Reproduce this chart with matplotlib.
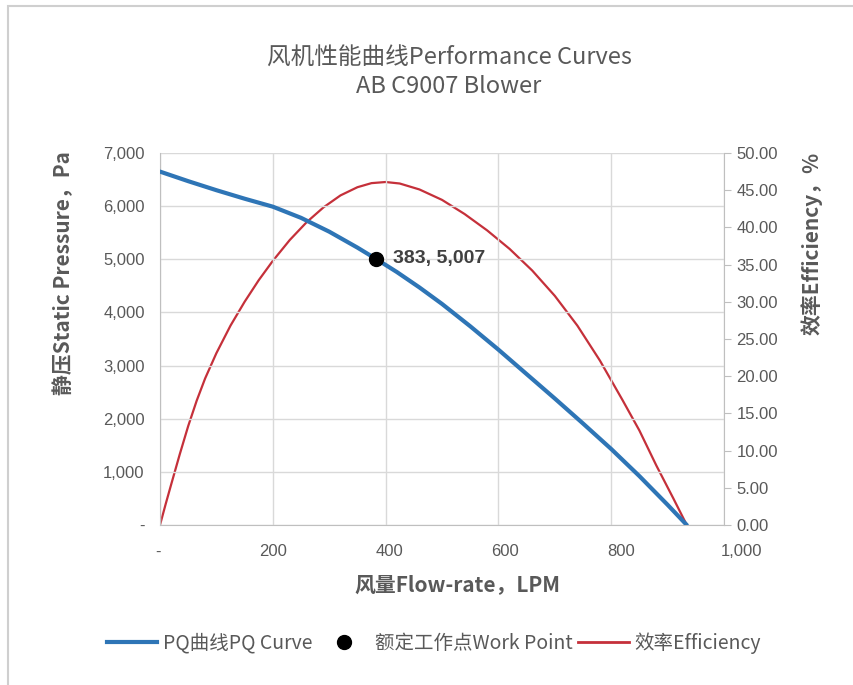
import matplotlib
matplotlib.use("Agg")
import matplotlib.pyplot as plt
import matplotlib.transforms as mtransforms
from matplotlib.lines import Line2D
from matplotlib.patches import Rectangle

plt.rcParams['font.family'] = ['Noto Sans CJK SC', 'DejaVu Sans']

# PQ curve (flow LPM, static pressure Pa)
flow_pq = [0, 50, 100, 150, 200, 250, 300, 350, 383, 420, 460, 500, 550, 600,
           650, 700, 750, 800, 850, 900, 934]
pressure = [6650, 6470, 6300, 6140, 5990, 5780, 5520, 5220, 5007, 4760, 4470, 4160, 3740, 3300,
            2840, 2380, 1910, 1430, 920, 380, 0]

# efficiency curve (flow LPM, %)
flow_eff = [0, 10, 20, 35, 50, 65, 80, 100, 125, 150, 175, 200, 230, 260, 290, 320,
            350, 375, 400, 425, 460, 500, 540, 580, 620, 660, 700, 740, 780, 820,
            850, 880, 910, 934]
efficiency = [0, 2.8, 5.5, 9.5, 13.3, 16.7, 19.7, 23.1, 26.8, 30.0, 32.9, 35.5, 38.3, 40.7,
              42.7, 44.3, 45.4, 45.95, 46.1, 45.9, 45.1, 43.7, 41.8, 39.6, 37.1, 34.2, 30.8,
              26.8, 22.1, 16.8, 12.7, 8.0, 3.6, 0]

work_flow = [383]
work_pressure = [5007]

left_ticks = [0, 1000, 2000, 3000, 4000, 5000, 6000, 7000]
left_labels = ['-', '1,000', '2,000', '3,000', '4,000', '5,000', '6,000', '7,000']
x_ticks = [0, 200, 400, 600, 800, 1000]
x_labels = ['-', '200', '400', '600', '800', '1,000']
right_ticks = [0, 5, 10, 15, 20, 25, 30, 35, 40, 45, 50]

blue = '#2E75B6'
red = '#C5303A'
txt = '#595959'
grid = '#D9D9D9'
num_font = ['Liberation Sans', 'DejaVu Sans']

fig = plt.figure(figsize=(8.54, 6.85), dpi=100)
fig.patches.append(Rectangle((8 / 854, -0.1), 1.2, 1 - 6 / 685 + 0.1, transform=fig.transFigure,
                             fill=False, edgecolor='#CFCFCF', lw=1.5))

ax = fig.add_axes([160 / 854, 1 - 525 / 685, (724 - 160) / 854, (525 - 153) / 685])
ax2 = ax.twinx()

ax.plot(flow_pq, pressure, color=blue, lw=3, solid_capstyle='round', solid_joinstyle='round', zorder=3)
ax.plot(work_flow, work_pressure, 'o', color='black', markersize=10, zorder=5)
ax.annotate(f"{work_flow[0]}, {work_pressure[0]:,}", (work_flow[0], work_pressure[0]),
            xytext=(12, 0), textcoords='offset points', va='center', ha='left',
            fontsize=14, color='#404040', fontweight='bold', family=num_font)
ax2.plot(flow_eff, efficiency, color=red, lw=1.6, solid_joinstyle='round', zorder=3)

ax.set_xlim(0, 1000)
ax.set_ylim(0, 7000)
ax2.set_ylim(0, 50)
ax.set_zorder(ax2.get_zorder() + 1)
ax.patch.set_visible(False)

ax.set_xticks(x_ticks)
ax.set_xticklabels([])
ax.set_yticks(left_ticks)
ax.set_yticklabels(left_labels, family=num_font)
ax2.set_yticks(right_ticks)
ax2.set_yticklabels([f"{v:.2f}" for v in right_ticks], family=num_font)

# x labels drawn by hand: in the original they drift slightly right of their gridlines
for xv, lab, dx in zip(x_ticks, x_labels, [-2, 0, 4, 7, 10, 17]):
    tr = ax.get_xaxis_transform() + mtransforms.ScaledTranslation(dx / 100, -27 / 100, fig.dpi_scale_trans)
    ax.text(xv, 0, lab, transform=tr, ha='center', va='center', fontsize=12,
            color=txt, family=num_font)

ax.grid(True, color=grid, lw=1)
ax.set_axisbelow(True)
for a in (ax, ax2):
    for s in a.spines.values():
        s.set_visible(False)
ax.spines['bottom'].set_visible(True)
ax.spines['bottom'].set_color('#BFBFBF')
ax.spines['left'].set_visible(True)
ax.spines['left'].set_color('#BFBFBF')
ax2.spines['right'].set_visible(True)
ax2.spines['right'].set_color('#BFBFBF')

ax.tick_params(axis='x', length=0)
ax.tick_params(axis='y', length=0, pad=11, labelsize=12, labelcolor=txt)
ax2.tick_params(axis='y', length=5, color='#BFBFBF', pad=4, labelsize=12, labelcolor=txt)

lab_font = dict(fontsize=15, color=txt, fontweight='bold')
ax.set_xlabel('风量Flow-rate，LPM', **lab_font)
ax.set_ylabel('静压Static Pressure，Pa', **lab_font)
ax2.set_ylabel('效率Efficiency，%', rotation=90, **lab_font)
ax.xaxis.set_label_coords((457 - 160) / 564, -(585 - 525) / 372)
ax.yaxis.set_label_coords(-(160 - 64) / 564, (525 - 273) / 372)
ax2.yaxis.set_label_coords((812 - 160) / 564, (525 - 243) / 372)
ax.xaxis.label.set_va('center')
ax.yaxis.label.set_va('center')
ax2.yaxis.label.set_va('center')

fig.text(449 / 854, 1 - 72 / 685, '风机性能曲线Performance Curves\nAB C9007 Blower',
         ha='center', va='center', fontsize=17, color=txt, fontweight='medium', linespacing=1.3)

handles = [Line2D([], [], color=blue, lw=3),
           Line2D([], [], marker='o', color='black', ls='none', markersize=10),
           Line2D([], [], color=red, lw=2)]
names = ['PQ曲线PQ Curve', '额定工作点Work Point', '效率Efficiency']
fig.legend(handles, names, loc='center', bbox_to_anchor=(434 / 854, 1 - 643 / 685), ncol=3,
           frameon=False, fontsize=14, handlelength=2.6, handletextpad=0.3,
           columnspacing=0.3, labelcolor=txt)

fig.savefig('out.png', dpi=100)
